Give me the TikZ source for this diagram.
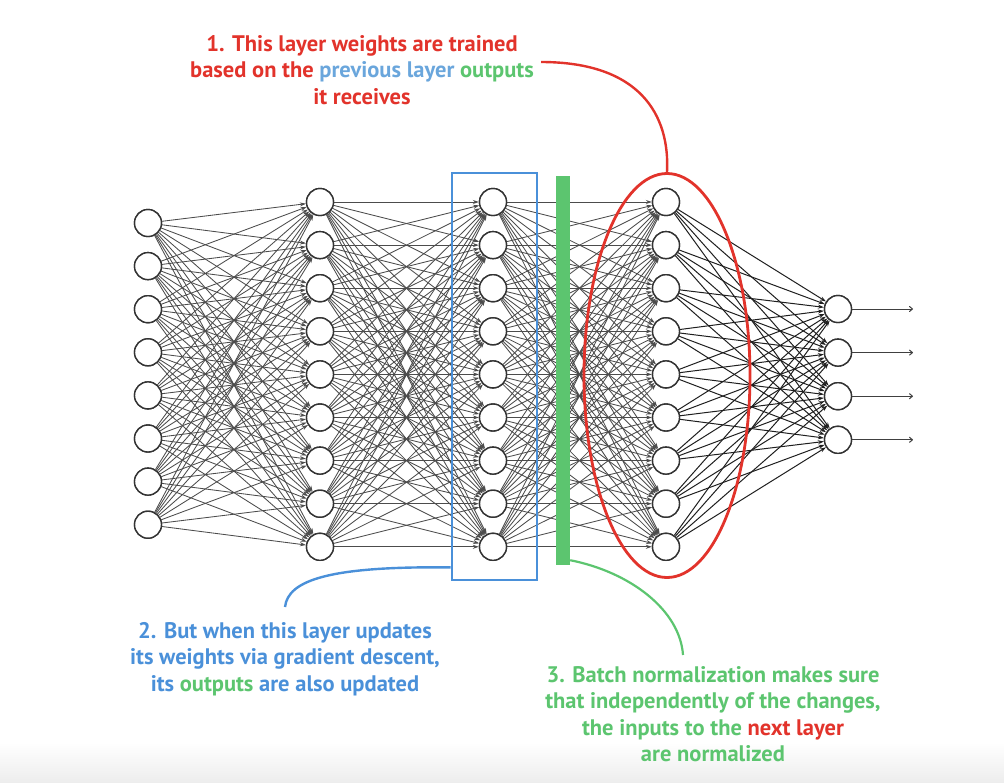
\documentclass[tikz,border=0pt]{standalone}
\usepackage{fontspec}
\setmainfont{PT Sans}
\usetikzlibrary{arrows.meta,shapes.geometric}
\definecolor{cred}{HTML}{E2332B}
\definecolor{cblue}{HTML}{4A90D9}
\definecolor{cblueL}{HTML}{6AA6DC}
\definecolor{cgreen}{HTML}{5CC56F}
\tikzset{
  neuron/.style={circle,draw=black!80,fill=white,line width=1.4pt,minimum size=27pt,inner sep=0pt},
  edge/.style={draw=black!70,line width=0.85pt,-{Stealth[length=6pt,width=4pt]}},
  edgedark/.style={draw=black!88,line width=1pt,-{Stealth[length=6pt,width=4pt]}},
  outarrow/.style={draw=black!75,line width=1pt,-{To[length=4pt,width=6pt]}},
  lbl/.style={font=\bfseries\fontsize{22.5}{26.5}\selectfont,align=center,inner sep=0pt},
}
\begin{document}
\begin{tikzpicture}[x=1pt,y=-1pt]
\useasboundingbox (0,0) rectangle (1004,782);
\fill[top color=white,bottom color=black!7] (0,742) rectangle (1004,782);
% layers
\foreach \i in {1,...,8} \node[neuron] (a\i) at (148,{223+(\i-1)*43.1}) {};
\foreach \i in {1,...,9} \node[neuron] (b\i) at (320,{202+(\i-1)*43.1}) {};
\foreach \i in {1,...,9} \node[neuron] (c\i) at (493,{202+(\i-1)*43.1}) {};
\foreach \i in {1,...,9} \node[neuron] (d\i) at (666,{202+(\i-1)*43.1}) {};
\foreach \i in {1,...,4} \node[neuron] (e\i) at (838,{309+(\i-1)*43.6}) {};
% edges
\foreach \i in {1,...,8} \foreach \j in {1,...,9} \draw[edge] (a\i) -- (b\j);
\foreach \i in {1,...,9} \foreach \j in {1,...,9} \draw[edge] (b\i) -- (c\j);
\foreach \i in {1,...,9} \foreach \j in {1,...,9} \draw[edge] (c\i) -- (d\j);
\foreach \i in {1,...,9} \foreach \j in {1,...,4} \draw[edgedark] (d\i) -- (e\j);
% redraw nodes on top
\foreach \i in {1,...,8} \node[neuron] at (a\i) {};
\foreach \i in {1,...,9} \node[neuron] at (b\i) {};
\foreach \i in {1,...,9} \node[neuron] at (c\i) {};
\foreach \i in {1,...,9} \node[neuron] at (d\i) {};
\foreach \i in {1,...,4} \node[neuron] at (e\i) {};
% outputs
\foreach \i in {1,...,4} {
  \coordinate (o\i) at (913,{309+(\i-1)*43.6});
  \draw[outarrow] (e\i) -- (o\i);
}
% highlight shapes
\node[draw=cblue,line width=2.8pt,minimum width=85pt,minimum height=407pt,inner sep=0pt] (bbox) at (494.5,376.5) {};
\node[fill=cgreen,minimum width=14pt,minimum height=389pt,inner sep=0pt] (gbar) at (563,370.5) {};
\node[ellipse,draw=cred,line width=2.8pt,minimum width=166pt,minimum height=404pt,inner sep=0pt] (sel) at (667,375.5) {};
% labels
\node[lbl,text=cred] (rtext) at (362,70) {1. This layer weights are trained\\based on the \textcolor{cblueL}{previous layer} \textcolor{cgreen}{outputs}\\it receives};
\node[lbl,text=cblue] (btext) at (285,659) {2. But when this layer updates\\its weights via gradient descent,\\its \textcolor{cgreen}{outputs} are also updated};
\node[lbl,text=cgreen] (gtext) at (713,714) {3. Batch normalization makes sure\\that independently of the changes,\\the inputs to the \textcolor{cred}{next layer}\\are normalized};
% connectors
\coordinate (rstart) at (541,62);
\draw[cred,line width=2.4pt] (rstart) .. controls (640,62) and (670,115) .. (sel.north);
\coordinate (bend) at (285,607);
\draw[cblue,line width=2.4pt] ([yshift=14pt]bbox.south west) .. controls (330,566) and (288,580) .. (bend);
\coordinate (gend) at (683,655);
\draw[cgreen,line width=2.2pt] ([yshift=5pt]gbar.south east) .. controls (630,572) and (680,610) .. (gend);
\end{tikzpicture}
\end{document}
